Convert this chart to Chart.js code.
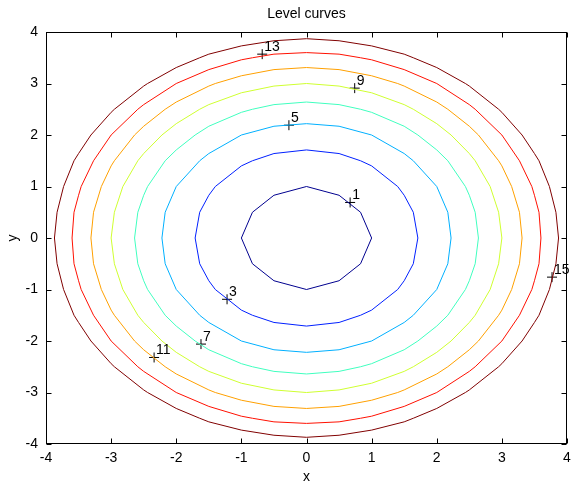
<!DOCTYPE html>
<html>
<head>
<meta charset="utf-8">
<script src="https://cdn.jsdelivr.net/npm/chart.js@4"></script>
<style>
html,body{margin:0;padding:0;background:#fff}
</style>
</head>
<body>
<canvas id="chart" width="573" height="484"></canvas>
<script>
// contour levels of the reference and their line colours
const levels=[1,3,5,7,9,11,13,15]
const lineColors=["#00008f","#0020ff","#00b0ff","#40ffbf","#cfff30","#ffa000","#ff1000","#800000"]

// vertices of each level curve
const curve1=[[1,0],[0.83,0.5],[0.5,0.83],[0,1],[-0.5,0.83],[-0.83,0.5],[-1,0],[-0.83,-0.5],[-0.5,-0.83],[0,-1],[0.5,-0.83],[0.83,-0.5],[1,0]]

const curve3=[[1.71,0],[1.64,0.5],[1.5,0.83],[1.4,1],[1,1.4],[0.83,1.5],[0.5,1.64],[0,1.71],
[-0.5,1.64],[-0.83,1.5],[-1,1.4],[-1.4,1],[-1.5,0.83],[-1.64,0.5],[-1.71,0],
[-1.64,-0.5],[-1.5,-0.83],[-1.4,-1],[-1,-1.4],[-0.83,-1.5],[-0.5,-1.64],[0,-1.71],
[0.5,-1.64],[0.83,-1.5],[1,-1.4],[1.4,-1],[1.5,-0.83],[1.64,-0.5],[1.71,0]]

const curve5=[[2.22,0],[2.17,0.5],[2,1],[1.64,1.5],[1.5,1.64],[1,2],[0.5,2.17],[0,2.22],
[-0.5,2.17],[-1,2],[-1.5,1.64],[-1.64,1.5],[-2,1],[-2.17,0.5],[-2.22,0],
[-2.17,-0.5],[-2,-1],[-1.64,-1.5],[-1.5,-1.64],[-1,-2],[-0.5,-2.17],[0,-2.22],
[0.5,-2.17],[1,-2],[1.5,-1.64],[1.64,-1.5],[2,-1],[2.17,-0.5],[2.22,0]]

const curve7=[[2.64,0],[2.59,0.5],[2.5,0.83],[2.44,1],[2.17,1.5],[2,1.71],[1.71,2],[1.5,2.17],[1,2.44],[0.83,2.5],[0.5,2.59],[0,2.64],
[-0.5,2.59],[-0.83,2.5],[-1,2.44],[-1.5,2.17],[-1.71,2],[-2,1.71],[-2.17,1.5],[-2.44,1],[-2.5,0.83],[-2.59,0.5],[-2.64,0],
[-2.59,-0.5],[-2.5,-0.83],[-2.44,-1],[-2.17,-1.5],[-2,-1.71],[-1.71,-2],[-1.5,-2.17],[-1,-2.44],[-0.83,-2.5],[-0.5,-2.59],[0,-2.64],
[0.5,-2.59],[0.83,-2.5],[1,-2.44],[1.5,-2.17],[1.71,-2],[2,-1.71],[2.17,-1.5],[2.44,-1],[2.5,-0.83],[2.59,-0.5],[2.64,0]]

const curve9=[[3,0],[2.95,0.5],[2.82,1],[2.59,1.5],[2.5,1.64],[2.22,2],[2,2.22],[1.64,2.5],[1.5,2.59],[1,2.82],[0.5,2.95],[0,3],
[-0.5,2.95],[-1,2.82],[-1.5,2.59],[-1.64,2.5],[-2,2.22],[-2.22,2],[-2.5,1.64],[-2.59,1.5],[-2.82,1],[-2.95,0.5],[-3,0],
[-2.95,-0.5],[-2.82,-1],[-2.59,-1.5],[-2.5,-1.64],[-2.22,-2],[-2,-2.22],[-1.64,-2.5],[-1.5,-2.59],[-1,-2.82],[-0.5,-2.95],[0,-3],
[0.5,-2.95],[1,-2.82],[1.5,-2.59],[1.64,-2.5],[2,-2.22],[2.22,-2],[2.5,-1.64],[2.59,-1.5],[2.82,-1],[2.95,-0.5],[3,0]]

const curve11=[[3.31,0],[3.27,0.5],[3.15,1],[3,1.4],[2.95,1.5],[2.64,2],[2.5,2.17],[2.17,2.5],[2,2.64],[1.5,2.95],[1.4,3],[1,3.15],[0.5,3.27],[0,3.31],
[-0.5,3.27],[-1,3.15],[-1.4,3],[-1.5,2.95],[-2,2.64],[-2.17,2.5],[-2.5,2.17],[-2.64,2],[-2.95,1.5],[-3,1.4],[-3.15,1],[-3.27,0.5],[-3.31,0],
[-3.27,-0.5],[-3.15,-1],[-3,-1.4],[-2.95,-1.5],[-2.64,-2],[-2.5,-2.17],[-2.17,-2.5],[-2,-2.64],[-1.5,-2.95],[-1.4,-3],[-1,-3.15],[-0.5,-3.27],[0,-3.31],
[0.5,-3.27],[1,-3.15],[1.4,-3],[1.5,-2.95],[2,-2.64],[2.17,-2.5],[2.5,-2.17],[2.64,-2],[2.95,-1.5],[3,-1.4],[3.15,-1],[3.27,-0.5],[3.31,0]]

const curve13=[[3.6,0],[3.57,0.5],[3.5,0.83],[3.46,1],[3.27,1.5],[3,2],[2.59,2.5],[2.5,2.59],[2,3],[1.5,3.27],[1,3.46],[0.83,3.5],[0.5,3.57],[0,3.6],
[-0.5,3.57],[-0.83,3.5],[-1,3.46],[-1.5,3.27],[-2,3],[-2.5,2.59],[-2.59,2.5],[-3,2],[-3.27,1.5],[-3.46,1],[-3.5,0.83],[-3.57,0.5],[-3.6,0],
[-3.57,-0.5],[-3.5,-0.83],[-3.46,-1],[-3.27,-1.5],[-3,-2],[-2.59,-2.5],[-2.5,-2.59],[-2,-3],[-1.5,-3.27],[-1,-3.46],[-0.83,-3.5],[-0.5,-3.57],[0,-3.6],
[0.5,-3.57],[0.83,-3.5],[1,-3.46],[1.5,-3.27],[2,-3],[2.5,-2.59],[2.59,-2.5],[3,-2],[3.27,-1.5],[3.46,-1],[3.5,-0.83],[3.57,-0.5],[3.6,0]]

const curve15=[[3.87,0],[3.83,0.5],[3.73,1],[3.57,1.5],[3.5,1.64],[3.31,2],[3,2.44],[2.95,2.5],[2.5,2.95],[2.44,3],[2,3.31],[1.64,3.5],[1.5,3.57],[1,3.73],[0.5,3.83],[0,3.87],
[-0.5,3.83],[-1,3.73],[-1.5,3.57],[-1.64,3.5],[-2,3.31],[-2.44,3],[-2.5,2.95],[-2.95,2.5],[-3,2.44],[-3.31,2],[-3.5,1.64],[-3.57,1.5],[-3.73,1],[-3.83,0.5],[-3.87,0],
[-3.83,-0.5],[-3.73,-1],[-3.57,-1.5],[-3.5,-1.64],[-3.31,-2],[-3,-2.44],[-2.95,-2.5],[-2.5,-2.95],[-2.44,-3],[-2,-3.31],[-1.64,-3.5],[-1.5,-3.57],[-1,-3.73],[-0.5,-3.83],[0,-3.87],
[0.5,-3.83],[1,-3.73],[1.5,-3.57],[1.64,-3.5],[2,-3.31],[2.44,-3],[2.5,-2.95],[2.95,-2.5],[3,-2.44],[3.31,-2],[3.5,-1.64],[3.57,-1.5],[3.73,-1],[3.83,-0.5],[3.87,0]]

const curves=[curve1,curve3,curve5,curve7,curve9,curve11,curve13,curve15]

// contour labels (the + marks) and their texts
const labelX=[0.67,-1.22,-0.27,-1.62,0.74,-2.34,-0.68,3.77]
const labelY=[0.69,-1.19,2.19,-2.06,2.91,-2.32,3.57,-0.76]
const labelText=["1","3","5","7","9","11","13","15"]

const FONT="Liberation Sans, Arial, sans-serif"
const FSIZE=14

let datasets=curves.map((c,i)=>({
label:"level "+levels[i],
data:c.map(p=>({x:p[0],y:p[1]})),
showLine:true,
borderColor:lineColors[i],
borderWidth:1,
pointRadius:0,
tension:0,
fill:false
}))

datasets.push({
label:"labels",
data:labelX.map((x,i)=>({x:x,y:labelY[i]})),
showLine:false,
pointStyle:"cross",
pointRadius:5,
borderColor:"#000",
borderWidth:1
})

// box, inward ticks, titles and contour label texts
const decor={
id:"decor",
afterDraw(chart){
let ctx=chart.ctx
let a=chart.chartArea
let sx=chart.scales.x
let sy=chart.scales.y
ctx.save()
ctx.strokeStyle="#000"
ctx.lineWidth=1
let L=Math.round(a.left)+0.5,R=Math.round(a.right)-0.5,T=Math.round(a.top)+0.5,B=Math.round(a.bottom)-0.5
ctx.strokeRect(L,T,R-L,B-T)
ctx.beginPath()
sx.ticks.forEach(t=>{
let p=Math.round(sx.getPixelForValue(t.value))+0.5
ctx.moveTo(p,B);ctx.lineTo(p,B-5)
ctx.moveTo(p,T);ctx.lineTo(p,T+5)
})
sy.ticks.forEach(t=>{
let p=Math.round(sy.getPixelForValue(t.value))+0.5
ctx.moveTo(L,p);ctx.lineTo(L+5,p)
ctx.moveTo(R,p);ctx.lineTo(R-5,p)
})
ctx.stroke()

ctx.fillStyle="#000"
ctx.font=FSIZE+"px "+FONT
ctx.textAlign="left"
ctx.textBaseline="alphabetic"
labelText.forEach((s,i)=>{
let px=sx.getPixelForValue(labelX[i])
let py=sy.getPixelForValue(labelY[i])
ctx.fillText(s,px+2,py-3)
})

ctx.textAlign="center"
ctx.fillText("Level curves",(a.left+a.right)/2,18)
ctx.fillText("x",(a.left+a.right)/2,481)
ctx.translate(17,(a.top+a.bottom)/2)
ctx.rotate(-Math.PI/2)
ctx.fillText("y",0,0)
ctx.restore()
}
}

let chart=new Chart(document.getElementById("chart"),{
type:"scatter",
data:{datasets:datasets},
plugins:[decor],
options:{
responsive:false,
animation:false,
devicePixelRatio:1,
layout:{padding:{top:32,right:3,left:0,bottom:0}},
plugins:{legend:{display:false},tooltip:{enabled:false}},
scales:{
x:{
type:"linear",min:-4,max:4,
ticks:{stepSize:1,color:"#000",font:{family:FONT,size:FSIZE},padding:6,maxRotation:0},
grid:{display:false,drawTicks:false},
border:{display:false},
afterFit(s){s.height=40;s.paddingLeft=0;s.paddingRight=0}
},
y:{
type:"linear",min:-4,max:4,
ticks:{stepSize:1,color:"#000",font:{family:FONT,size:FSIZE},padding:8},
grid:{display:false,drawTicks:false},
border:{display:false},
afterFit(s){s.width=46;s.paddingTop=0;s.paddingBottom=0}
}
}
}
})
</script>
</body>
</html>
